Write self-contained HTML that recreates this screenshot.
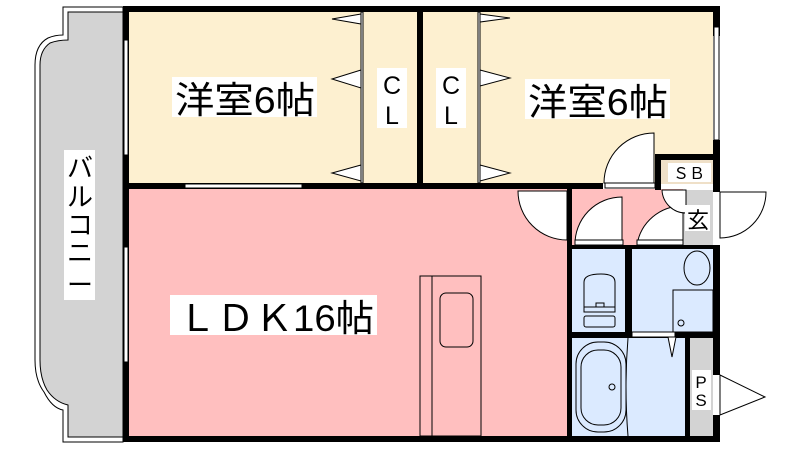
<!DOCTYPE html>
<html><head><meta charset="utf-8"><style>
html,body{margin:0;padding:0;background:#fff;}
svg{display:block;}
text{font-family:"Liberation Sans","Noto Sans CJK JP",sans-serif;fill:#000;}
</style></head><body>
<svg width="800" height="450" viewBox="0 0 800 450" xmlns="http://www.w3.org/2000/svg">
<path d="M63,7 L123,7 L123,442 L63,442 L63,410 Q52,408 44,392 Q35,380 35,360 L35,65 Q35,45 48,38 Q55,35 63,35 Z" fill="#fff" stroke="#000" stroke-width="1"/>
<path d="M68,12 L123,12 L123,437 L68,437 L68,405 Q55,402 47,390 Q40,378 40,360 L40,65 Q40,50 50,43 Q58,40 68,40 Z" fill="#d3d3d3" stroke="#000" stroke-width="1"/>
<rect x="129" y="12" width="232" height="171" fill="#fdf0d0"/>
<rect x="361" y="12" width="56" height="171" fill="#fdf0d0"/>
<rect x="423" y="12" width="290" height="171" fill="#fdf0d0"/>
<rect x="129" y="189" width="438" height="247" fill="#ffbfbf"/>
<rect x="572" y="189" width="111" height="59" fill="#ffbfbf"/>
<rect x="683" y="190" width="30" height="55" fill="#d3d3d3"/>
<rect x="572" y="248" width="53" height="84" fill="#dbeaff"/>
<rect x="632" y="248" width="81" height="84" fill="#dbeaff"/>
<rect x="572" y="338" width="113" height="98" fill="#dbeaff"/>
<rect x="690" y="338" width="23" height="98" fill="#d3d3d3"/>
<rect x="660" y="160" width="53" height="24" fill="#efe0c8"/>
<g fill="#000">
<rect x="123" y="6" width="597" height="6"/>
<rect x="123" y="6" width="6" height="436"/>
<rect x="123" y="436" width="597" height="6"/>
<rect x="713" y="6" width="7" height="30"/>
<rect x="713" y="140" width="7" height="52"/>
<rect x="713" y="245" width="7" height="130"/>
<rect x="713" y="415" width="7" height="27"/>
<rect x="417" y="12" width="6" height="177"/>
<rect x="123" y="183" width="480" height="6"/>
<rect x="655" y="154" width="65" height="6"/>
<rect x="655" y="154" width="6" height="36"/>
<rect x="567" y="189" width="5" height="253"/>
<rect x="567" y="245" width="153" height="4"/>
<rect x="625" y="245" width="7" height="93"/>
<rect x="567" y="332" width="153" height="6"/>
<rect x="685" y="332" width="5" height="110"/>
</g>
<g fill="#fff" stroke="#000" stroke-width="1">
<rect x="124" y="40" width="4" height="115"/>
<rect x="124" y="247" width="4" height="115"/>
<rect x="185" y="184" width="117" height="4"/>
<rect x="714" y="27" width="5" height="113"/>
<rect x="361" y="12" width="2" height="171"/>
<rect x="478" y="12" width="2" height="171"/>
</g>
<g fill="#fff" stroke="#000" stroke-width="1">
<path d="M361,14 L332,19 L361,24 Z"/><path d="M361,70 L332,79 L361,88 Z"/><path d="M361,165 L332,173 L361,181 Z"/>
<path d="M480,14 L510,18 L480,22 Z"/><path d="M480,70 L510,78 L480,86 Z"/><path d="M480,165 L510,173 L480,181 Z"/>
</g>
<g fill="#fff" stroke="#000" stroke-width="1">
<path d="M654,133 L654,183 L604,183 A50,50 0 0 1 654,133 Z"/>
<path d="M518,191 L567,191 L567,240 A49,49 0 0 1 518,191 Z"/>
<path d="M622,197 L622,245 L575,245 A47,47 0 0 1 622,197 Z"/>
<path d="M683,206 L683,245 L637,245 A46,46 0 0 1 683,206 Z"/>
<path d="M662,190 L686,190 L686,213 A24,24 0 0 1 662,190 Z"/>
<path d="M720,192 L766,192 A46,46 0 0 1 720,238 Z"/>
<path d="M720,375 L765,397 L720,415 Z"/>
<rect x="575" y="240" width="48" height="5"/>
<rect x="637" y="240" width="46" height="5"/>
<rect x="605" y="183" width="50" height="5"/>
<rect x="632" y="332" width="43" height="5"/>
<path d="M668,337 L676,337 L672,357 Z"/>
</g>
<g fill="none" stroke="#000" stroke-width="1">
<rect x="420" y="276" width="61" height="160"/>
<line x1="432" y1="276" x2="432" y2="436"/>
<rect x="440" y="293" width="33" height="54" rx="6"/>
<path d="M584,307 L584,282 Q584,274 601,274 Q615,274 615,282 L615,307 Z"/>
<path d="M584,307 L596,307 L596,303 L604,303 L604,307 L615,307 L615,312 L584,312 Z"/>
<rect x="584" y="316" width="31" height="11" rx="2"/>
<ellipse cx="697" cy="268" rx="13" ry="17"/>
<rect x="673" y="290" width="40" height="42"/>
<circle cx="681" cy="323" r="3"/>
<rect x="576" y="342" width="50" height="90" rx="22"/>
<rect x="581" y="350" width="40" height="75" rx="17"/>
<circle cx="612" cy="387" r="3"/>
<path d="M628,338 Q624,387 628,436"/>
</g>
<rect x="172" y="77" width="145" height="40" fill="#fff"/>
<text x="175" y="113" font-size="37" textLength="140" lengthAdjust="spacingAndGlyphs">洋室6帖</text>
<rect x="525" y="79" width="145" height="40" fill="#fff"/>
<text x="528" y="115" font-size="37" textLength="140" lengthAdjust="spacingAndGlyphs">洋室6帖</text>
<rect x="377" y="68" width="30" height="60" fill="#fff"/>
<text x="392" y="94" font-size="25" text-anchor="middle">C</text>
<text x="392" y="124" font-size="25" text-anchor="middle">L</text>
<rect x="436" y="68" width="30" height="60" fill="#fff"/>
<text x="451" y="94" font-size="25" text-anchor="middle">C</text>
<text x="451" y="124" font-size="25" text-anchor="middle">L</text>
<rect x="170" y="295" width="207" height="40" fill="#fff"/>
<text x="178" y="331" font-size="37" textLength="196" lengthAdjust="spacingAndGlyphs">ＬＤＫ16帖</text>
<rect x="64" y="150" width="31" height="150" fill="#fff"/>
<text font-size="26" text-anchor="middle">
<tspan x="80" y="177">バ</tspan><tspan x="80" y="206">ル</tspan><tspan x="80" y="234">コ</tspan><tspan x="80" y="262">ニ</tspan><tspan x="80" y="294">ー</tspan></text>
<rect x="668" y="163" width="43" height="19" fill="#fff"/>
<text x="689" y="179" font-size="16" text-anchor="middle">ＳＢ</text>
<rect x="685" y="205" width="25" height="26" fill="#fff"/>
<text x="698" y="228" font-size="22" text-anchor="middle">玄</text>
<rect x="692" y="370" width="19" height="40" fill="#fff"/>
<text x="701" y="388" font-size="17" text-anchor="middle">P</text>
<text x="701" y="406" font-size="17" text-anchor="middle">S</text>
</svg>
</body></html>
